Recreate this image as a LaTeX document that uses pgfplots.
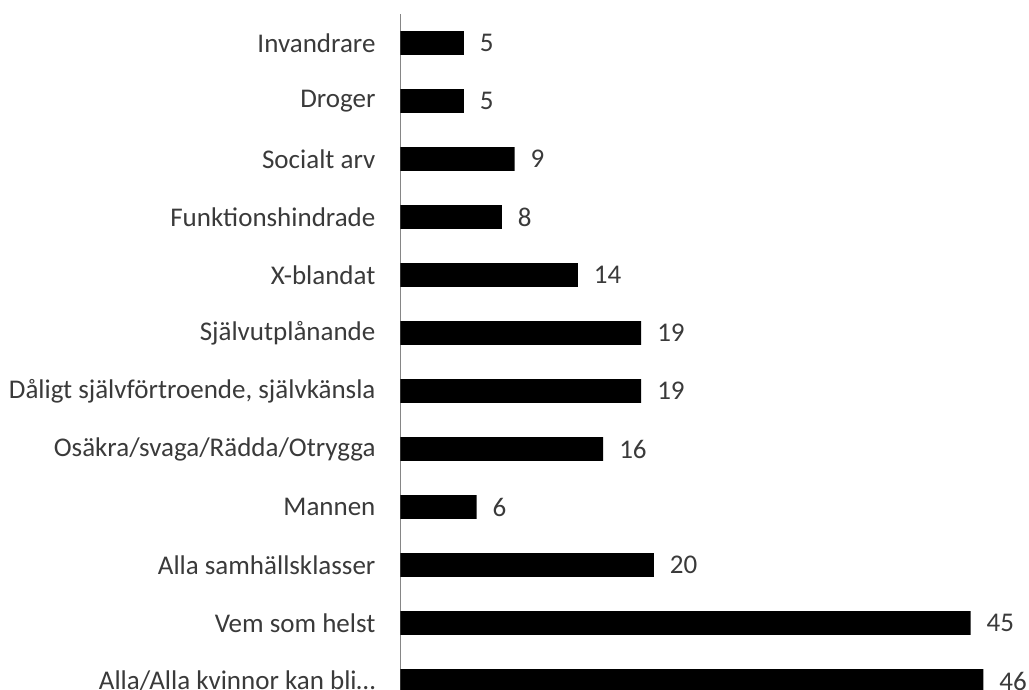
\documentclass[border=0pt]{standalone}
\usepackage{fontspec}
\setmainfont{Carlito}
\usepackage{pgfplots}
\pgfplotsset{compat=1.18}
\definecolor{txt}{HTML}{3A3A3A}
\definecolor{axgray}{HTML}{868686}
\begin{document}
\begin{tikzpicture}
\begin{axis}[
  name=ax,
  at={(0pt,0pt)}, anchor=north west,
  scale only axis,
  width=316.75pt, height=348pt,
  xmin=0, xmax=50, ymin=-0.5, ymax=11.5,
  y dir=reverse,
  xbar, bar width=11.8pt, bar shift=0pt,
  axis x line=none, axis y line*=left,
  y axis line style={draw=axgray, line width=0.6pt},
  ytick={0,1,2,3,4,5,6,7,8,9,10,11},
  yticklabels={Invandrare,Droger,Socialt arv,Funktionshindrade,X-blandat,Självutplånande,{Dåligt självförtroende, självkänsla},Osäkra/svaga/Rädda/Otrygga,Mannen,Alla samhällsklasser,Vem som helst,{Alla/Alla kvinnor kan bli…}},
  major tick length=0pt,
  yticklabel style={font=\fontsize{13.5}{16}\selectfont, text=txt, xshift=-9pt},
  nodes near coords,
  nodes near coords style={font=\fontsize{13.5}{16}\selectfont, text=txt, anchor=west, xshift=4.5pt, /pgf/number format/assume math mode=true},
  point meta=x,
]
\addplot[fill=black, draw=none] coordinates {
(5,0) (5,1) (9,2) (8,3) (14,4) (19,5) (19,6) (16,7) (6,8) (20,9) (45,10) (46,11)
};
\end{axis}
\pgfresetboundingbox
\path[use as bounding box] (-200.25pt,7pt) rectangle (314.25pt,-338pt);
\end{tikzpicture}
\end{document}
